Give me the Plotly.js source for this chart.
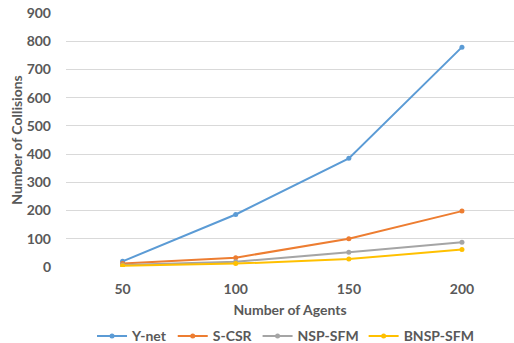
<!DOCTYPE html>
<html>
<head>
<meta charset="utf-8">
<script src="https://cdn.plot.ly/plotly-3.0.1.min.js"></script>
<style>html,body{margin:0;padding:0;background:#fff;}#chart{width:514px;height:343px;}</style>
</head>
<body>
<div id="chart"></div>
<script>
// Number of agents (category axis)
const agents = ['50', '100', '150', '200'];

// Collisions per method
const ynet    = [20, 186, 385, 779];
const scsr    = [12, 33, 100, 198];
const nspSfm  = [7, 19, 52, 88];
const bnspSfm = [4, 12, 28, 62];

const seriesNames = ['Y-net', 'S-CSR', 'NSP-SFM', 'BNSP-SFM'];
const seriesData = [ynet, scsr, nspSfm, bnspSfm];
const seriesColors = ['#5B9BD5', '#ED7D31', '#A5A5A5', '#FFC000'];

const traces = seriesData.map((vals, i) => ({
  type: 'scatter',
  mode: 'lines+markers',
  name: seriesNames[i],
  x: agents,
  y: vals,
  line: {color: seriesColors[i], width: 2},
  marker: {color: seriesColors[i], size: 5, symbol: 'circle'}
}));

const fontFam = 'Lato, "Open Sans", sans-serif';
const gray = '#595959';

const layout = {
  width: 514,
  height: 343,
  margin: {l: 66, r: 0, t: 13, b: 76, autoexpand: false},
  paper_bgcolor: '#fff',
  plot_bgcolor: '#fff',
  font: {family: fontFam, color: gray, size: 13},
  showlegend: true,
  legend: {
    orientation: 'h',
    x: 0.49, xanchor: 'center',
    y: -0.273, yanchor: 'middle',
    font: {family: fontFam, color: gray, size: 14, weight: 'bold'},
    itemwidth: 30,
    tracegroupgap: 0
  },
  xaxis: {
    type: 'category',
    range: [-0.5, 3.46],
    showgrid: false,
    zeroline: false,
    showline: false,
    ticks: '',
    ticklabelstandoff: 12,
    tickfont: {family: fontFam, color: gray, size: 14, weight: 'bold'},
    title: {text: 'Number of Agents', standoff: 9,
            font: {family: fontFam, color: gray, size: 14, weight: 'bold'}}
  },
  yaxis: {
    range: [0, 900],
    dtick: 100,
    showgrid: true,
    gridcolor: '#D9D9D9',
    gridwidth: 1,
    zeroline: false,
    showline: false,
    ticks: '',
    ticklabelstandoff: 14,
    tickfont: {family: fontFam, color: gray, size: 14, weight: 'bold'},
    title: {text: 'Number of Collisions', standoff: 0,
            font: {family: fontFam, color: gray, size: 14, weight: 'bold'}}
  }
};

Plotly.newPlot('chart', traces, layout, {displayModeBar: false, staticPlot: true});
</script>
</body>
</html>
